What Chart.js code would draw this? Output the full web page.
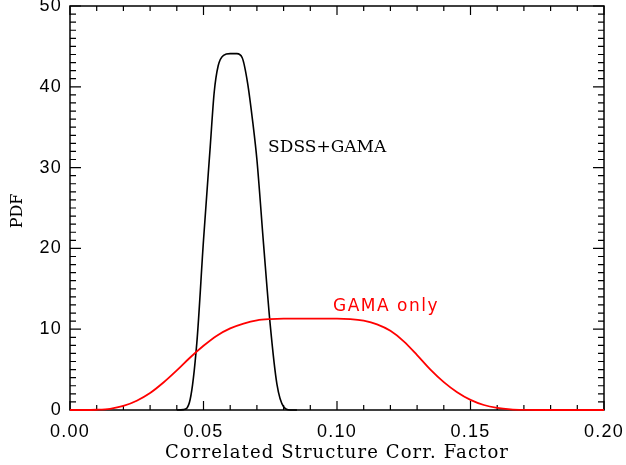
<!DOCTYPE html>
<html>
<head>
<meta charset="utf-8">
<script src="https://cdn.jsdelivr.net/npm/chart.js@4.4.1/dist/chart.umd.min.js"></script>
<style>
    html, body { margin: 0; padding: 0; background: #fff; }
    #wrap { width: 626px; height: 465px; }
</style>
</head>
<body>
<div id="wrap"><canvas id="pdfChart" width="626" height="465"></canvas></div>
<script>
// tick values and labels
const xTicks = [0, 0.05, 0.10, 0.15, 0.20];
const xTickLabels = ['0.00', '0.05', '0.10', '0.15', '0.20'];
const yTicks = [0, 10, 20, 30, 40, 50];
const yTickLabels = ['0', '10', '20', '30', '40', '50'];
const xMinorStep = 0.01;
const yMinorStep = 1;

// SDSS+GAMA (black), only where it leaves the baseline
const sdssX = [0.04, 0.0425, 0.045, 0.0475, 0.05, 0.0525, 0.054, 0.0555, 0.0575, 0.06, 0.0625, 0.0645,
    0.0665, 0.0685, 0.07, 0.0725, 0.075, 0.0775, 0.08, 0.0825, 0.085];
const sdssY = [0, 0.05, 1.3, 8.3, 21, 32.5, 39.3, 42.6, 43.9, 44.1, 44.1, 43.6,
    40.5, 35.5, 31, 20.5, 10.5, 3.2, 0.4, 0, 0];

// GAMA only (red)
const gamaX = [0, 0.005, 0.01, 0.015, 0.02, 0.025, 0.03, 0.035, 0.04, 0.045, 0.05, 0.055, 0.06, 0.065,
    0.07, 0.075, 0.08, 0.085, 0.09, 0.095, 0.10, 0.105, 0.11, 0.115, 0.12, 0.125, 0.13, 0.135,
    0.14, 0.145, 0.15, 0.155, 0.16, 0.165, 0.17, 0.175, 0.18, 0.19, 0.20];
const gamaY = [0, 0, 0.03, 0.15, 0.5, 1.15, 2.1, 3.4, 4.9, 6.5, 7.95, 9.2, 10.1, 10.7,
    11.1, 11.25, 11.3, 11.3, 11.3, 11.3, 11.3, 11.25, 11.05, 10.6, 9.8, 8.5, 6.8, 5.0,
    3.45, 2.2, 1.25, 0.62, 0.27, 0.09, 0.02, 0, 0, 0, 0];

const xTitle = 'Correlated Structure Corr. Factor';
const yTitle = 'PDF';

const toPoints = (xs, ys) => xs.map((x, i) => ({ x: x, y: ys[i] }));

// box with inward ticks on all four sides, IDL style
const framePlugin = {
    id: 'frame',
    beforeDraw(chart) {
        // wider digit spacing for the tick labels
        chart.ctx.letterSpacing = '1.3px';
    },
    beforeDatasetsDraw(chart) {
        const { ctx, chartArea: a, scales: { x, y } } = chart;
        ctx.letterSpacing = '0px';
        ctx.save();
        ctx.strokeStyle = '#000';
        ctx.lineWidth = 1.5;
        ctx.strokeRect(a.left, a.top, a.right - a.left, a.bottom - a.top);
        ctx.lineWidth = 1.2;
        ctx.beginPath();
        const nx = Math.round((x.max - x.min) / xMinorStep);
        for (let i = 0; i <= nx; i++) {
            const px = x.getPixelForValue(x.min + i * xMinorStep);
            const len = (i % 5 === 0) ? 9 : 5;
            ctx.moveTo(px, a.bottom); ctx.lineTo(px, a.bottom - len);
            ctx.moveTo(px, a.top); ctx.lineTo(px, a.top + len);
        }
        const ny = Math.round((y.max - y.min) / yMinorStep);
        for (let i = 0; i <= ny; i++) {
            const py = y.getPixelForValue(y.min + i * yMinorStep);
            const len = (i % 10 === 0) ? 11 : 6;
            ctx.moveTo(a.left, py); ctx.lineTo(a.left + len, py);
            ctx.moveTo(a.right, py); ctx.lineTo(a.right - len, py);
        }
        ctx.stroke();

        // axis titles
        ctx.fillStyle = '#000';
        ctx.textAlign = 'center';
        ctx.textBaseline = 'middle';
        ctx.font = '18px "DejaVu Serif"';
        ctx.letterSpacing = '1.1px';
        ctx.fillText(xTitle, (a.left + a.right) / 2, 453);
        ctx.letterSpacing = '0px';
        ctx.font = '16px "DejaVu Serif"';
        ctx.translate(18, (a.top + a.bottom) / 2 + 3);
        ctx.rotate(-Math.PI / 2);
        ctx.fillText(yTitle, 0, 0);
        ctx.restore();
    },
    afterDatasetsDraw(chart) {
        const { ctx, scales: { x, y } } = chart;
        ctx.save();
        ctx.textAlign = 'left';
        ctx.textBaseline = 'middle';
        ctx.font = '17px "DejaVu Serif"';
        ctx.fillStyle = '#000';
        ctx.fillText('SDSS+GAMA', x.getPixelForValue(0.0742), y.getPixelForValue(32.5));
        ctx.font = '17px "DejaVu Sans"';
        ctx.letterSpacing = '1.5px';
        ctx.fillStyle = '#ff0000';
        ctx.fillText('GAMA only', x.getPixelForValue(0.0985), y.getPixelForValue(12.75));
        ctx.restore();
    }
};

const ctx = document.getElementById('pdfChart').getContext('2d');
new Chart(ctx, {
    type: 'line',
    data: {
        datasets: [{
            label: 'GAMA only',
            data: toPoints(gamaX, gamaY),
            borderColor: '#ff0000',
            borderWidth: 1.8,
            pointRadius: 0,
            cubicInterpolationMode: 'monotone',
            clip: 4
        }, {
            label: 'SDSS+GAMA',
            data: toPoints(sdssX, sdssY),
            borderColor: '#000000',
            borderWidth: 1.6,
            pointRadius: 0,
            cubicInterpolationMode: 'monotone',
            clip: 4
        }]
    },
    options: {
        responsive: false,
        animation: false,
        devicePixelRatio: 1,
        layout: { padding: { top: 6, right: 22, left: 0, bottom: 0 } },
        plugins: {
            legend: { display: false },
            tooltip: { enabled: false }
        },
        scales: {
            x: {
                type: 'linear',
                min: 0,
                max: 0.2,
                grid: { display: false, drawTicks: false },
                border: { display: false },
                afterBuildTicks: (scale) => { scale.ticks = xTicks.map(v => ({ value: v })); },
                afterFit: (scale) => {
                    scale.height = 55;
                    scale.paddingLeft = 0;
                    scale.paddingRight = 0;
                },
                ticks: {
                    padding: 11,
                    maxRotation: 0,
                    color: '#000',
                    font: { family: 'Liberation Sans', size: 18 },
                    callback: (v) => xTickLabels[xTicks.indexOf(v)]
                }
            },
            y: {
                type: 'linear',
                min: 0,
                max: 50,
                grid: { display: false, drawTicks: false },
                border: { display: false },
                afterBuildTicks: (scale) => { scale.ticks = yTicks.map(v => ({ value: v })); },
                afterFit: (scale) => {
                    scale.width = 70;
                    scale.paddingTop = 0;
                    scale.paddingBottom = 0;
                },
                ticks: {
                    padding: 8,
                    color: '#000',
                    font: { family: 'Liberation Sans', size: 18 },
                    callback: (v) => yTickLabels[yTicks.indexOf(v)]
                }
            }
        }
    },
    plugins: [framePlugin]
});
</script>
</body>
</html>
